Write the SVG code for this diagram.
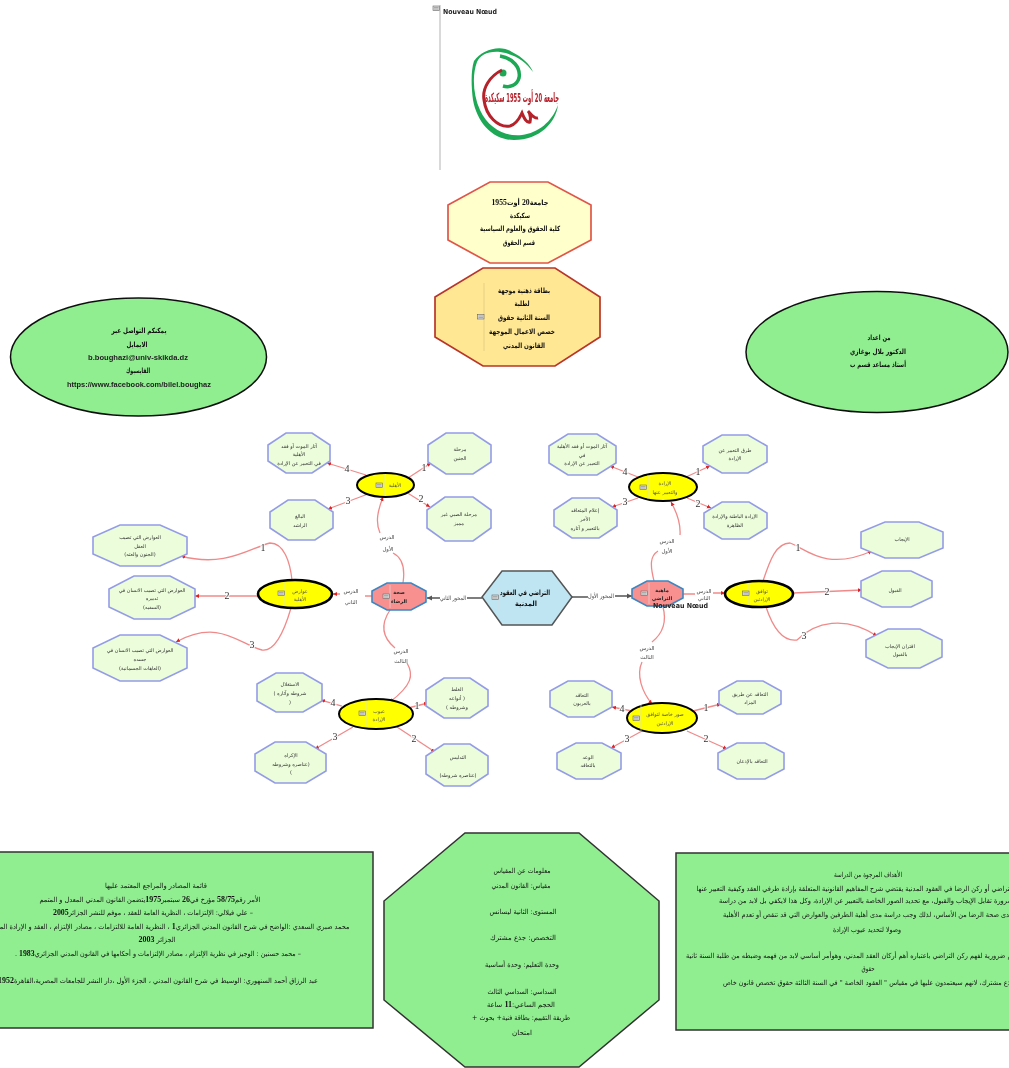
<svg xmlns="http://www.w3.org/2000/svg" width="1009" height="1068" viewBox="0 0 1009 1068">
<style>
text{font-family:"DejaVu Sans","Liberation Sans",sans-serif;text-anchor:middle;fill:#222;direction:rtl}
.s{font-size:5px;fill:#333}
.m{font-size:7px;fill:#111}
.y{font-size:5px;fill:#555}
.p{font-size:5px;fill:#222;font-weight:bold}
.b{font-size:7.2px;fill:#111;font-weight:bold}
.l{font-size:5.4px;fill:#444}
.c{font-size:6px;fill:#444;paint-order:stroke;stroke:#fff;stroke-width:1px}
.n{font-family:"Liberation Serif",serif;font-weight:bold;font-size:8.5px}
.e{font-family:"Liberation Sans",sans-serif;font-weight:bold;font-size:7.5px;direction:ltr}
.h{font-family:"Liberation Serif",serif;font-size:10px;fill:#333;paint-order:stroke;stroke:#fff;stroke-width:2px;direction:ltr}
.nn{font-family:"DejaVu Sans",sans-serif;font-weight:bold;font-size:7px;direction:ltr;text-anchor:start;fill:#222}
.o{fill:#ebfdda;stroke:#949ce8;stroke-width:1.6}
.k{fill:#ffff00;stroke:#000;stroke-width:2}
.t{stroke-width:2.6}
.r{fill:#f89090;stroke:#3a87c4;stroke-width:1.6}
.g{fill:#90ee90;stroke:#333;stroke-width:1.5}
.d{stroke:#ddd;stroke-width:.7}
.w{fill:none;stroke:#f08a8a;stroke-width:1.3}
.v{fill:none;stroke:#555;stroke-width:1.5}
</style>
<defs>
<filter id="soft" filterUnits="userSpaceOnUse" x="0" y="0" width="1009" height="1068"><feGaussianBlur stdDeviation="0.3"/></filter>
<marker id="ar" markerUnits="userSpaceOnUse" markerWidth="5" markerHeight="5" refX="4" refY="2.500" orient="auto"><path d="M0,.5 L4,2.500 L0,4.500 Z" fill="#e02020"/></marker>
<marker id="ag" markerUnits="userSpaceOnUse" markerWidth="6" markerHeight="6" refX="5" refY="3" orient="auto"><path d="M0,.5 L5,3 L0,5.500 Z" fill="#555"/></marker>
<g id="ic"><rect x="0" y="0" width="6.500" height="4.500" fill="#ddd" stroke="#666" stroke-width=".6"/><path d="M1,1.500H5.500M1,3H5.500" stroke="#777" stroke-width=".5"/></g>
</defs>
<rect width="1009" height="1068" fill="#fff"/>
<g filter="url(#soft)">

<g id="connectors">
<path class="v" d="M482,598H467M440,598H427" marker-end="url(#ag)"/>
<path class="v" d="M572,597H588M615,596H632" marker-end="url(#ag)"/>
<path class="w" d="M372,596H365M340,594H333" marker-end="url(#ar)"/>
<path class="w" d="M683,594H695M713,593H725" marker-end="url(#ar)"/>
<path class="w" d="M654,581C650,565 650,556 658,551M680,535C681,522 676,511 671,502" marker-end="url(#ar)"/>
<path class="w" d="M663,607C667,622 662,634 652,642M642,662C636,675 642,692 652,704" marker-end="url(#ar)"/>
<path class="w" d="M403,583C405,570 403,558 393,553M380,533C375,522 378,510 383,497" marker-end="url(#ar)"/>
<path class="w" d="M390,610C380,625 383,638 395,648M407,663C414,675 412,685 390,702" marker-end="url(#ar)"/>
<path class="w" d="M366,475L327,463" marker-end="url(#ar)"/>
<path class="w" d="M368,494L328,509" marker-end="url(#ar)"/>
<path class="w" d="M408,478L431,463" marker-end="url(#ar)"/>
<path class="w" d="M406,492L430,507" marker-end="url(#ar)"/>
<path class="w" d="M686,477L710,466" marker-end="url(#ar)"/>
<path class="w" d="M687,498L711,508" marker-end="url(#ar)"/>
<path class="w" d="M638,498L612,507" marker-end="url(#ar)"/>
<path class="w" d="M638,477L610,466" marker-end="url(#ar)"/>
<path class="w" d="M693,711L721,704" marker-end="url(#ar)"/>
<path class="w" d="M687,731L727,749" marker-end="url(#ar)"/>
<path class="w" d="M642,731L611,748" marker-end="url(#ar)"/>
<path class="w" d="M632,711L612,707" marker-end="url(#ar)"/>
<path class="w" d="M408,708L428,703" marker-end="url(#ar)"/>
<path class="w" d="M397,727L435,752" marker-end="url(#ar)"/>
<path class="w" d="M353,727L315,749" marker-end="url(#ar)"/>
<path class="w" d="M342,706L321,700" marker-end="url(#ar)"/>
<path class="w" d="M292,580C290,562 284,543 270,543C250,548 225,568 181,556" marker-end="url(#ar)"/>
<path class="w" d="M258,596L195,596" marker-end="url(#ar)"/>
<path class="w" d="M291,608C284,632 275,652 262,650C240,645 220,618 176,642" marker-end="url(#ar)"/>
<path class="w" d="M763,581C770,560 776,543 790,543C805,548 825,572 872,551" marker-end="url(#ar)"/>
<path class="w" d="M793,593L862,590" marker-end="url(#ar)"/>
<path class="w" d="M766,607C772,625 782,642 797,640C815,622 845,615 877,636" marker-end="url(#ar)"/>
<text class="c" x="453" y="600" textLength="26" lengthAdjust="spacingAndGlyphs">المحور الثاني</text>
<text class="c" x="601" y="598" textLength="26" lengthAdjust="spacingAndGlyphs">المحور الأول</text>
<text class="l" x="351" y="593">الدرس</text><text class="l" x="351" y="604">الثاني</text>
<text class="l" x="704" y="593">الدرس</text><text class="l" x="704" y="600">الثاني</text>
<text class="l" x="667" y="543">الدرس</text><text class="l" x="667" y="553">الأول</text>
<text class="l" x="647" y="650">الدرس</text><text class="l" x="647" y="659">الثالث</text>
<text class="l" x="387" y="539">الدرس</text><text class="l" x="388" y="551">الأول</text>
<text class="l" x="401" y="653">الدرس</text><text class="l" x="401" y="663">الثالث</text>
<text class="h" x="347" y="472">4</text><text class="h" x="348" y="504">3</text><text class="h" x="424" y="471">1</text><text class="h" x="421" y="502">2</text>
<text class="h" x="698" y="475">1</text><text class="h" x="698" y="507">2</text><text class="h" x="625" y="505">3</text><text class="h" x="625" y="475">4</text>
<text class="h" x="706" y="711">1</text><text class="h" x="706" y="742">2</text><text class="h" x="627" y="742">3</text><text class="h" x="622" y="712">4</text>
<text class="h" x="417" y="709">1</text><text class="h" x="414" y="742">2</text><text class="h" x="335" y="740">3</text><text class="h" x="333" y="706">4</text>
<text class="h" x="263" y="551">1</text><text class="h" x="227" y="599">2</text><text class="h" x="252" y="648">3</text>
<text class="h" x="798" y="551">1</text><text class="h" x="827" y="595">2</text><text class="h" x="804" y="639">3</text>
</g>

<g id="logo-node">
<line x1="440" y1="5" x2="440" y2="170" stroke="#ccc" stroke-width="1.5"/>
<use href="#ic" x="433" y="6"/>
<text class="nn" x="443" y="14" textLength="54" lengthAdjust="spacingAndGlyphs">Nouveau Nœud</text>
<path fill="#1fa855" d="M474,61C482,50 500,44 512,52C522,57 530,64 533,72C526,62 515,54 500,52C488,51 480,55 477,62C472,75 473,95 480,110C488,128 505,137 522,135C538,133 552,122 558,105C556,122 540,140 514,140C492,140 477,122 473,100C471,85 471,70 474,61Z"/>
<path fill="none" stroke="#1fa855" stroke-width="3.500" d="M500,56C513,58 521,68 519,78C517,85 510,88 503,86"/>
<circle cx="503" cy="73" r="3.500" fill="#1fa855"/>
<path fill="none" stroke="#b5202a" stroke-width="3" d="M502,70C490,76 482,88 484,100C486,116 498,128 510,126C517,124 520,117 522,113C524,118 526,123 530,122C531,117 530,113 528,111C531,114 534,119 538,118"/>
<text x="522" y="102" font-weight="bold" font-size="13" style="fill:#b5202a" textLength="74" lengthAdjust="spacingAndGlyphs">جامعة 20 أوت 1955 سكيكدة</text>
</g>

<g id="n-univ">
<polygon points="490,182 548,182 591,205 591,240 548,263 490,263 448,240 448,205" fill="#ffffcc" stroke="#e05548" stroke-width="1.7"/>
<text class="b" x="520" y="205" textLength="57" lengthAdjust="spacingAndGlyphs">جامعة<tspan class="n">20</tspan> أوت<tspan class="n">1955</tspan></text>
<text class="b" x="520" y="218" textLength="20" lengthAdjust="spacingAndGlyphs">سكيكدة</text>
<text class="b" x="520" y="231" textLength="80" lengthAdjust="spacingAndGlyphs">كلية الحقوق والعلوم السياسية</text>
<text class="b" x="519" y="245" textLength="32" lengthAdjust="spacingAndGlyphs">قسم الحقوق</text>
</g>
<g id="n-card">
<polygon points="483,268 555,268 600,297 600,337 555,366 483,366 435,337 435,297" fill="#ffe793" stroke="#b8352a" stroke-width="1.7"/>
<line class="d" x1="484" y1="283" x2="484" y2="351" style="stroke:#d8c880"/>
<use href="#ic" x="477.500" y="314.500"/>
<text class="b" x="524" y="293" textLength="52" lengthAdjust="spacingAndGlyphs">بطاقة ذهنية موجهة</text>
<text class="b" x="522" y="306" textLength="15" lengthAdjust="spacingAndGlyphs">لطلبة</text>
<text class="b" x="524" y="320" textLength="52" lengthAdjust="spacingAndGlyphs">السنة الثانية حقوق</text>
<text class="b" x="522" y="334" textLength="66" lengthAdjust="spacingAndGlyphs">خصص الاعمال الموجهة</text>
<text class="b" x="524" y="348" textLength="42" lengthAdjust="spacingAndGlyphs">القانون المدني</text>
</g>
<g id="n-contact">
<ellipse cx="138.500" cy="357" rx="128" ry="59" fill="#90ee90" stroke="#111" stroke-width="1.5"/>
<text class="b" x="139" y="333" textLength="55" lengthAdjust="spacingAndGlyphs">يمكنكم التواصل عبر</text>
<text class="b" x="137" y="347" textLength="21" lengthAdjust="spacingAndGlyphs">الايمايل</text>
<text class="e" x="138" y="360" textLength="100" lengthAdjust="spacingAndGlyphs">b.boughazi@univ-skikda.dz</text>
<text class="b" x="138" y="373" textLength="24" lengthAdjust="spacingAndGlyphs">الفايسبوك</text>
<text class="e" x="139" y="387" textLength="144" lengthAdjust="spacingAndGlyphs">https://www.facebook.com/bilel.boughaz</text>
</g>
<g id="n-author">
<ellipse cx="877" cy="352" rx="131" ry="60.500" fill="#90ee90" stroke="#111" stroke-width="1.5"/>
<text class="b" x="879" y="340" textLength="23" lengthAdjust="spacingAndGlyphs">من اعداد</text>
<text class="b" x="878" y="354" textLength="56" lengthAdjust="spacingAndGlyphs">الدكتور بلال بوغازي</text>
<text class="b" x="878" y="367" textLength="56" lengthAdjust="spacingAndGlyphs">أستاذ مساعد قسم ب</text>
</g>

<g id="n-root">
<polygon points="502,571 552,571 572,597 552,625 502,625 482,597" fill="#bfe4f2" stroke="#555" stroke-width="1.5"/>
<line class="d" x1="499" y1="588" x2="499" y2="609"/>
<use href="#ic" x="492" y="595"/>
<text class="b" x="525" y="595" textLength="50" lengthAdjust="spacingAndGlyphs">التراضي في العقود</text>
<text class="b" x="526" y="606" textLength="22" lengthAdjust="spacingAndGlyphs">المدنية</text>
</g>
<g id="n-sihha">
<polygon class="r" points="387,583 411,583 426,591 426,602 411,610 387,610 372,602 372,591"/>
<line class="d" x1="390" y1="585" x2="390" y2="608"/><use href="#ic" x="383" y="594"/>
<text class="p" x="399" y="594">صحة</text><text class="p" x="399" y="603">الرضاء</text>
</g>
<g id="n-mahiya">
<polygon class="r" points="647,581 668,581 683,589 683,598 668,606 647,606 632,598 632,589"/>
<line class="d" x1="649" y1="583" x2="649" y2="604"/><use href="#ic" x="641" y="591"/>
<text class="p" x="662" y="592">ماهية</text><text class="p" x="662" y="600">التراضي</text>
</g>
<text class="nn" x="653" y="608" textLength="55" lengthAdjust="spacingAndGlyphs">Nouveau Nœud</text>

<g id="e-ahliya"><ellipse class="k" cx="385.500" cy="485" rx="28.500" ry="12"/><line class="d" x1="384" y1="474" x2="384" y2="495"/><use href="#ic" x="376" y="483"/><text class="y" x="395" y="487">الأهلية</text></g>
<g id="e-awarid"><ellipse class="k t" cx="295" cy="594" rx="37" ry="14"/><line class="d" x1="285" y1="582" x2="285" y2="606"/><use href="#ic" x="278" y="591"/><text class="y" x="300" y="593">عوارض</text><text class="y" x="300" y="601">الأهلية</text></g>
<g id="e-uyub"><ellipse class="k" cx="376" cy="714" rx="37" ry="15"/><line class="d" x1="367" y1="701" x2="367" y2="727"/><use href="#ic" x="359" y="711"/><text class="y" x="379" y="713">عيوب</text><text class="y" x="379" y="721">الإرادة</text></g>
<g id="e-irada"><ellipse class="k" cx="663" cy="487" rx="34" ry="14"/><line class="d" x1="648" y1="475" x2="648" y2="499"/><use href="#ic" x="640" y="485"/><text class="y" x="665" y="485">الإرادة</text><text class="y" x="665" y="494">والتعبير عنها</text></g>
<g id="e-tawafuq"><ellipse class="k t" cx="759" cy="594" rx="34" ry="13"/><line class="d" x1="749" y1="583" x2="749" y2="605"/><use href="#ic" x="742.500" y="591"/><text class="y" x="762" y="593">توافق</text><text class="y" x="762" y="601">الإرادتين</text></g>
<g id="e-suwar"><ellipse class="k" cx="662" cy="718" rx="35" ry="15"/><line class="d" x1="641" y1="705" x2="641" y2="731"/><use href="#ic" x="633" y="716"/><text class="y" x="665" y="716">صور خاصة لتوافق</text><text class="y" x="665" y="725">الإرادتين</text></g>

<g id="a1"><polygon class="o" points="286,433 312,433 330,445 330,461 312,473 286,473 268,461 268,445"/><text class="s" x="299" y="448">آثار الموت أو فقد</text><text class="s" x="299" y="456">الأهلية</text><text class="s" x="299" y="465">في التعبير عن الإرادة</text></g>
<g id="a2"><polygon class="o" points="446,433 473,433 491,445 491,462 473,474 446,474 428,462 428,445"/><text class="s" x="460" y="451">مرحلة</text><text class="s" x="460" y="460">الجنين</text></g>
<g id="a3"><polygon class="o" points="288,500 315,500 333,512 333,528 315,540 288,540 270,528 270,512"/><text class="s" x="300" y="518">البالغ</text><text class="s" x="300" y="527">الراشد</text></g>
<g id="a4"><polygon class="o" points="445,497 473,497 491,510 491,528 473,541 445,541 427,528 427,510"/><text class="s" x="459" y="516">مرحلة الصبي غير</text><text class="s" x="459" y="525">مميز</text></g>
<g id="b1"><polygon class="o" points="120,525 160,525 187,537 187,554 160,566 120,566 93,554 93,537"/><text class="s" x="140" y="539">العوارض التي تصيب</text><text class="s" x="140" y="548">العقل</text><text class="s" x="140" y="556">(الجنون والعته)</text></g>
<g id="b2"><polygon class="o" points="134,576 170,576 195,589 195,607 170,619 134,619 109,607 109,589"/><text class="s" x="152" y="592">العوارض التي تصيب الانسان في</text><text class="s" x="152" y="600">تدبيره</text><text class="s" x="152" y="609">(السفيه)</text></g>
<g id="b3"><polygon class="o" points="120,635 160,635 187,648 187,668 160,681 120,681 93,668 93,648"/><text class="s" x="140" y="652">العوارض التي تصيب الانسان في</text><text class="s" x="140" y="661">جسده</text><text class="s" x="140" y="670">(العاهات الجسمانية)</text></g>
<g id="c1"><polygon class="o" points="885,522 919,522 943,532 943,548 919,558 885,558 861,548 861,532"/><text class="s" x="902" y="541">الإيجاب</text></g>
<g id="c2"><polygon class="o" points="882,571 911,571 932,581 932,597 911,607 882,607 861,597 861,581"/><text class="s" x="895" y="592">القبول</text></g>
<g id="c3"><polygon class="o" points="888,629 920,629 942,640 942,657 920,668 888,668 866,657 866,640"/><text class="s" x="900" y="648">اقتران الإيجاب</text><text class="s" x="900" y="656">بالقبول</text></g>
<g id="d1"><polygon class="o" points="722,435 748,435 767,446 767,462 748,473 722,473 703,462 703,446"/><text class="s" x="735" y="452">طرق التعبير عن</text><text class="s" x="735" y="460">الإرادة</text></g>
<g id="d2"><polygon class="o" points="722,502 749,502 767,513 767,528 749,539 722,539 704,528 704,513"/><text class="s" x="735" y="518">الإرادة الباطنة والإرادة</text><text class="s" x="735" y="527">الظاهرة</text></g>
<g id="d3"><polygon class="o" points="572,498 599,498 617,510 617,526 599,538 572,538 554,526 554,510"/><text class="s" x="585" y="512">إعلام المتعاقد</text><text class="s" x="585" y="521">الأخر</text><text class="s" x="585" y="530">بالتعبير و آثاره</text></g>
<g id="d4"><polygon class="o" points="568,434 597,434 616,446 616,463 597,475 568,475 549,463 549,446"/><text class="s" x="582" y="448">آثار الموت أو فقد الأهلية</text><text class="s" x="582" y="457">في</text><text class="s" x="582" y="465">التعبير عن الإرادة</text></g>
<g id="e1"><polygon class="o" points="737,681 763,681 781,691 781,704 763,714 737,714 719,704 719,691"/><text class="s" x="750" y="696">التعاقد عن طريق</text><text class="s" x="750" y="704">المزاد</text></g>
<g id="e2"><polygon class="o" points="737,743 765,743 784,753 784,769 765,779 737,779 718,769 718,753"/><text class="s" x="752" y="763">التعاقد بالإذعان</text></g>
<g id="e3"><polygon class="o" points="576,743 602,743 621,753 621,769 602,779 576,779 557,769 557,753"/><text class="s" x="588" y="759">الوعد</text><text class="s" x="588" y="767">بالتعاقد</text></g>
<g id="e4"><polygon class="o" points="568,681 594,681 612,691 612,707 594,717 568,717 550,707 550,691"/><text class="s" x="582" y="697">التعاقد</text><text class="s" x="582" y="705">بالعربون</text></g>
<g id="f1"><polygon class="o" points="444,678 470,678 488,690 488,706 470,718 444,718 426,706 426,690"/><text class="s" x="457" y="691">الغلط</text><text class="s" x="457" y="700">( أنواعه</text><text class="s" x="457" y="709">وشروطه )</text></g>
<g id="f2"><polygon class="o" points="444,744 470,744 488,756 488,774 470,786 444,786 426,774 426,756"/><text class="s" x="458" y="759">التدليس</text><text class="s" x="458" y="777">(عناصره شروطه)</text></g>
<g id="f3"><polygon class="o" points="275,742 306,742 326,754 326,771 306,783 275,783 255,771 255,754"/><text class="s" x="291" y="757">الإكراه</text><text class="s" x="291" y="766">(عناصره وشروطه</text><text class="s" x="291" y="774">)</text></g>
<g id="f4"><polygon class="o" points="276,673 303,673 322,684 322,701 303,712 276,712 257,701 257,684"/><text class="s" x="290" y="686">الاستغلال</text><text class="s" x="290" y="695">شروطه وآثاره )</text><text class="s" x="290" y="704">(</text></g>

<g id="n-refs">
<rect class="g" x="-57" y="852" width="430" height="176" stroke-width="2"/>
<text class="m" x="156" y="888" textLength="102" lengthAdjust="spacingAndGlyphs">قائمة المصادر والمراجع المعتمد عليها</text>
<text class="m" x="150" y="902" textLength="221" lengthAdjust="spacingAndGlyphs">الأمر رقم<tspan class="n">58/75</tspan>  مؤرخ في<tspan class="n">26</tspan>  سبتمبر<tspan class="n">1975</tspan>يتضمن القانون المدني المعدل و المتمم</text>
<text class="m" x="153" y="915" textLength="200" lengthAdjust="spacingAndGlyphs">– علي فيلالي: الإلتزامات ، النظرية العامة للعقد ، موفم  للنشر الجزائر<tspan class="n">2005</tspan></text>
<text class="m" x="167" y="929" textLength="365" lengthAdjust="spacingAndGlyphs">محمد صبري السعدي :الواضح في شرح القانون المدني الجزائري<tspan class="n">1</tspan> ، النظرية العامة للالتزامات ، مصادر الإلتزام ، العقد و الإرادة المنفردة</text>
<text class="m" x="157" y="942" textLength="37" lengthAdjust="spacingAndGlyphs">الجزائر <tspan class="n">2003</tspan></text>
<text class="m" x="158" y="956" textLength="286" lengthAdjust="spacingAndGlyphs">–  محمد حسنين : الوجيز في نظرية الإلتزام ، مصادر الإلتزامات و أحكامها في القانون المدني الجزائري<tspan class="n">1983</tspan> .</text>
<text class="m" x="158" y="983" textLength="320" lengthAdjust="spacingAndGlyphs">عبد الرزاق أحمد السنهوري: الوسيط في شرح القانون المدني ، الجزء الأول ،دار النشر للجامعات المصرية،القاهرة<tspan class="n">1952</tspan></text>
</g>

<g id="n-info">
<polygon class="g" points="465,833 579,833 659,901 659,1000 579,1067 465,1067 384,1000 384,901"/>
<text class="m" x="522" y="873" textLength="57" lengthAdjust="spacingAndGlyphs">معلومات عن المقياس</text>
<text class="m" x="521" y="888" textLength="59" lengthAdjust="spacingAndGlyphs">مقياس: القانون المدني</text>
<text class="m" x="523" y="914" textLength="67" lengthAdjust="spacingAndGlyphs">المستوى: الثانية ليسانس</text>
<text class="m" x="523" y="940" textLength="66" lengthAdjust="spacingAndGlyphs">التخصص: جذع مشترك</text>
<text class="m" x="522" y="967" textLength="74" lengthAdjust="spacingAndGlyphs">وحدة التعليم: وحدة أساسية</text>
<text class="m" x="522" y="994" textLength="69" lengthAdjust="spacingAndGlyphs">السداسي: السداسي الثالث</text>
<text class="m" x="521" y="1007" textLength="68" lengthAdjust="spacingAndGlyphs">الحجم الساعي:<tspan class="n">11</tspan> ساعة</text>
<text class="m" x="521" y="1020" textLength="98" lengthAdjust="spacingAndGlyphs">طريقة التقييم: بطاقة فنية+ بحوث +</text>
<text class="m" x="522" y="1035" textLength="20" lengthAdjust="spacingAndGlyphs">امتحان</text>
</g>

<g id="n-goals">
<rect class="g" x="676" y="853" width="384" height="177" stroke-width="2"/>
<text class="m" x="868" y="877" textLength="68" lengthAdjust="spacingAndGlyphs">الأهداف المرجوة من الدراسة</text>
<text class="m" x="855" y="891" textLength="317" lengthAdjust="spacingAndGlyphs">التراضي أو ركن الرضا في العقود المدنية يقتضي شرح المفاهيم القانونية  المتعلقة بإرادة طرفي العقد وكيفية التعبير عنها</text>
<text class="m" x="866" y="903" textLength="294" lengthAdjust="spacingAndGlyphs">ضرورة تقابل الإيجاب والقبول، مع  تحديد الصور الخاصة بالتعبير عن الإرادة، وكل هذا لايكفي بل لابد من دراسة</text>
<text class="m" x="868" y="917" textLength="290" lengthAdjust="spacingAndGlyphs">مدى صحة الرضا من الأساس، لذلك وجب دراسة مدى أهلية الطرفين والعوارض التي قد تنقص أو تعدم الأهلية</text>
<text class="m" x="867" y="932" textLength="68" lengthAdjust="spacingAndGlyphs">وصولا لتحديد عيوب الإرادة</text>
<text class="m" x="858" y="958" textLength="344" lengthAdjust="spacingAndGlyphs">المفاهيم ضرورية لفهم ركن التراضي باعتباره أهم أركان العقد المدني، وهوأمر أساسي لابد من فهمه وضبطه من طلبة السنة ثانية</text>
<text class="m" x="868" y="971" textLength="13" lengthAdjust="spacingAndGlyphs">حقوق</text>
<text class="m" x="869" y="985" textLength="292" lengthAdjust="spacingAndGlyphs">جذع مشترك، لانهم سيعتمدون عليها في مقياس " العقود الخاصة " في السنة الثالثة حقوق تخصص قانون خاص</text>
</g>
</g>
</svg>
